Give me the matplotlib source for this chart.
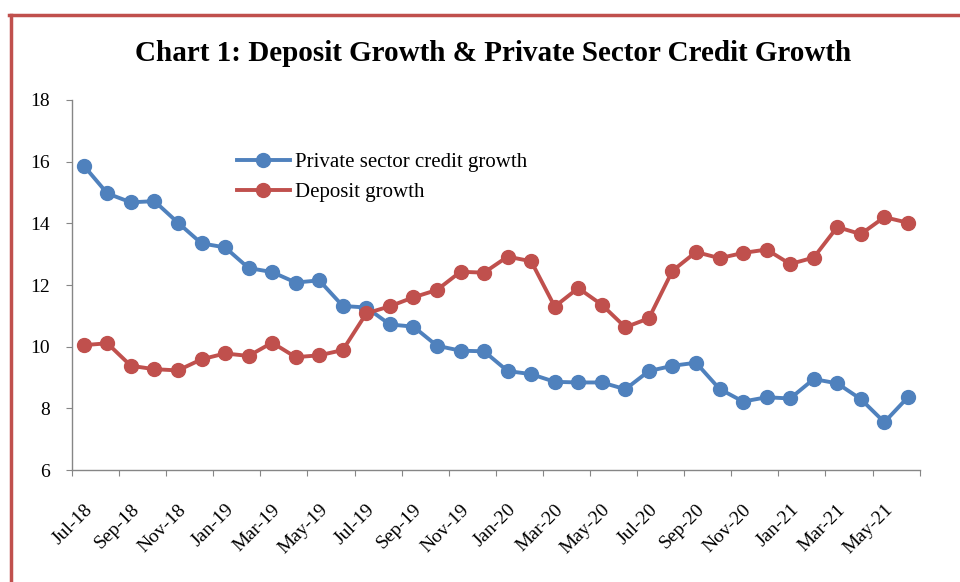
import matplotlib
matplotlib.use("Agg")
import matplotlib.pyplot as plt
from matplotlib.lines import Line2D

plt.rcParams['font.family'] = ['Liberation Serif', 'DejaVu Serif']

months = ['Jul-18', 'Aug-18', 'Sep-18', 'Oct-18', 'Nov-18', 'Dec-18',
          'Jan-19', 'Feb-19', 'Mar-19', 'Apr-19', 'May-19', 'Jun-19',
          'Jul-19', 'Aug-19', 'Sep-19', 'Oct-19', 'Nov-19', 'Dec-19',
          'Jan-20', 'Feb-20', 'Mar-20', 'Apr-20', 'May-20', 'Jun-20',
          'Jul-20', 'Aug-20', 'Sep-20', 'Oct-20', 'Nov-20', 'Dec-20',
          'Jan-21', 'Feb-21', 'Mar-21', 'Apr-21', 'May-21', 'Jun-21']

credit = [15.87, 14.97, 14.68, 14.72, 14.02, 13.35, 13.22, 12.55, 12.42, 12.08, 12.15, 11.32,
          11.27, 10.72, 10.65, 10.03, 9.87, 9.85, 9.21, 9.11, 8.86, 8.84, 8.84, 8.62,
          9.21, 9.38, 9.48, 8.63, 8.22, 8.36, 8.32, 8.95, 8.81, 8.30, 7.55, 8.36]

deposit = [10.05, 10.11, 9.38, 9.27, 9.23, 9.59, 9.78, 9.70, 10.13, 9.66, 9.72, 9.89,
           11.08, 11.31, 11.60, 11.84, 12.43, 12.40, 12.92, 12.77, 11.30, 11.90, 11.36, 10.63,
           10.92, 12.46, 13.07, 12.87, 13.04, 13.15, 12.68, 12.89, 13.88, 13.65, 14.20, 14.02]

blue = '#4F81BD'
red = '#C0504D'
axis_grey = '#868686'

fig = plt.figure(figsize=(9.6, 5.82), dpi=100)
ax = fig.add_axes([0.075, 0.1924, 0.883, 0.6358])

x = list(range(len(months)))
ax.plot(x, credit, color=blue, lw=2.8, marker='o', ms=10, label='Private sector credit growth')
ax.plot(x, deposit, color=red, lw=2.8, marker='o', ms=10, label='Deposit growth')

ax.set_xlim(-0.5, len(months) - 0.5)
ax.set_ylim(6, 18)
ax.set_yticks(range(6, 19, 2))
ax.tick_params(axis='y', labelsize=14, length=4, color=axis_grey, direction='out', pad=12)

# tick marks between categories, labels on every other month
ax.set_xticks([i - 0.5 for i in range(0, len(months) + 1, 2)])
ax.set_xticklabels([])
ax.tick_params(axis='x', length=4, color=axis_grey, direction='out')
for i in range(0, len(months), 2):
    ax.text(i + 0.25, -0.1, months[i], transform=ax.get_xaxis_transform(),
            rotation=45, ha='right', va='center', rotation_mode='anchor', fontsize=14)

for side in ['top', 'right']:
    ax.spines[side].set_visible(False)
for side in ['left', 'bottom']:
    ax.spines[side].set_color(axis_grey)
    ax.spines[side].set_linewidth(1)

ax.legend(loc='center left', bbox_to_anchor=(0.172, 0.79), frameon=False,
          fontsize=15, handlelength=2.55, handletextpad=0.24, labelspacing=0.5,
          borderpad=0.4)

fig.text(0.5135, 0.908, 'Chart 1: Deposit Growth & Private Sector Credit Growth',
         ha='center', va='center', fontsize=21, fontweight='bold')

# red frame around the chart (left and top edges visible)
fig.add_artist(Line2D([10.5 / 960, 10.5 / 960], [0, 1 - 15 / 582], color=red, lw=2.5,
                      transform=fig.transFigure))
fig.add_artist(Line2D([9 / 960, 1], [1 - 15 / 582, 1 - 15 / 582], color=red, lw=2.5,
                      transform=fig.transFigure))

fig.savefig('out.png', dpi=100)
